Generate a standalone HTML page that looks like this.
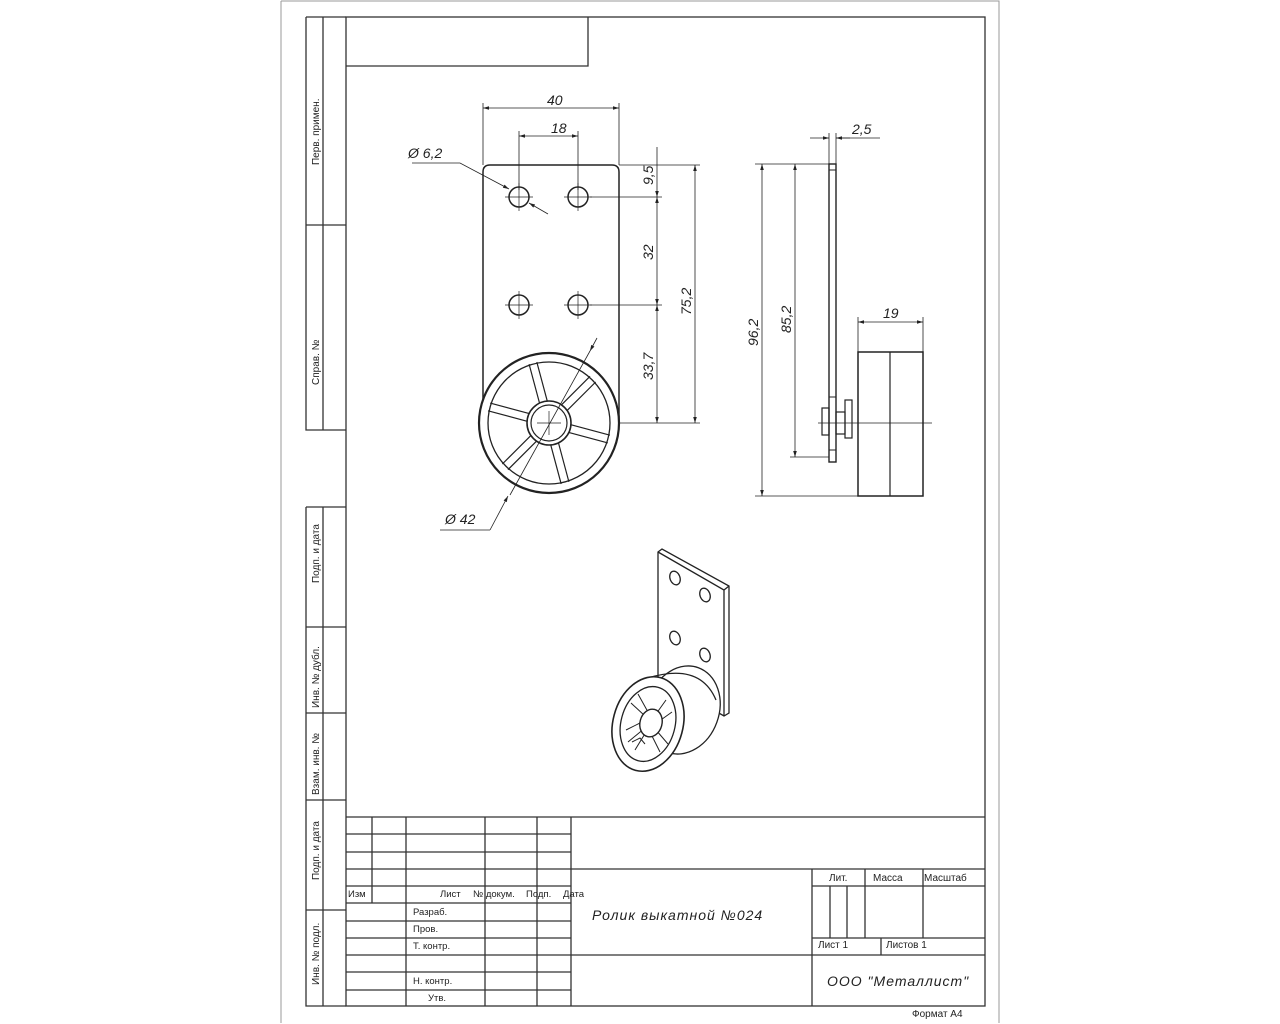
<!DOCTYPE html>
<html><head><meta charset="utf-8"><style>
html,body{margin:0;padding:0;background:#fff;}
svg{display:block;}
text{font-family:"Liberation Sans",sans-serif;fill:#222;}
.d{font-style:italic;font-size:14px;}
.s{font-size:9.5px;}
</style></head><body>
<svg width="1280" height="1024" viewBox="0 0 1280 1024" xmlns="http://www.w3.org/2000/svg">
<defs>
<marker id="a" viewBox="0 0 10 10" refX="10" refY="5" markerWidth="9" markerHeight="6" orient="auto-start-reverse" markerUnits="userSpaceOnUse"><path d="M0,2 L10,5 L0,8 z" fill="#222"/></marker>
</defs>
<g stroke="#999" stroke-width="1" fill="none">
<path d="M281,1 H999 V1023 M281,1 V1023"/>
</g>
<g stroke="#333" stroke-width="1.3" fill="none">
<rect x="346" y="17" width="639" height="989"/>
<path d="M346,66 H588 V17"/>
<path d="M306,17 V430 H346 M306,17 H346 M323,17 V430 M306,225 H346"/>
<path d="M306,507 V1006 H346 M306,507 H346 M323,507 V1006 M306,627 H346 M306,713 H346 M306,800 H346 M306,910 H346"/>
<path d="M346,817 H985"/>
<path d="M346,834 H571 M346,852 H571 M346,869 H985 M346,886 H571 M346,903 H571 M346,921 H571 M346,938 H571 M346,955 H985 M346,972 H571 M346,990 H571"/>
<path d="M372,817 V903 M406,817 V1006 M485,817 V1006 M537,817 V1006 M571,817 V1006"/>
<path d="M812,869 V1006 M812,886 H985 M812,938 H985 M830,886 V938 M847,886 V938 M865,869 V938 M923,869 V938 M881,938 V955"/>
</g>
<g class="s">
<text x="319" y="165" transform="rotate(-90 319 165)" font-size="10">Перв. примен.</text>
<text x="319" y="385" transform="rotate(-90 319 385)" font-size="10">Справ. №</text>
<text x="319" y="583" transform="rotate(-90 319 583)" font-size="10">Подп. и дата</text>
<text x="319" y="708" transform="rotate(-90 319 708)" font-size="10">Инв. № дубл.</text>
<text x="319" y="795" transform="rotate(-90 319 795)" font-size="10">Взам. инв. №</text>
<text x="319" y="880" transform="rotate(-90 319 880)" font-size="10">Подп. и дата</text>
<text x="319" y="985" transform="rotate(-90 319 985)" font-size="10">Инв. № подл.</text>
<text x="348" y="897">Изм</text>
<text x="440" y="897">Лист</text>
<text x="473" y="897">№ докум.</text>
<text x="526" y="897">Подп.</text>
<text x="563" y="897">Дата</text>
<text x="413" y="915">Разраб.</text>
<text x="413" y="932">Пров.</text>
<text x="413" y="949">Т. контр.</text>
<text x="413" y="984">Н. контр.</text>
<text x="428" y="1001">Утв.</text>
<text x="829" y="881" font-size="10">Лит.</text>
<text x="873" y="881" font-size="10">Масса</text>
<text x="924" y="881" font-size="10">Масштаб</text>
<text x="818" y="948" font-size="10">Лист 1</text>
<text x="886" y="948" font-size="10">Листов 1</text>
<text x="912" y="1017" font-size="10">Формат А4</text>
</g>
<text x="592" y="920" class="d" font-size="16" style="letter-spacing:1px">Ролик выкатной №024</text>
<text x="827" y="986" class="d" font-size="15" style="letter-spacing:1px">ООО "Металлист"</text>

<g stroke="#222" fill="none">
<path d="M483,420 V172 Q483,165 490,165 H612 Q619,165 619,172 V420" stroke-width="1.5"/>
<g stroke-width="1.5">
<circle cx="519" cy="197" r="10"/><circle cx="578" cy="197" r="10"/>
<circle cx="519" cy="305" r="10"/><circle cx="578" cy="305" r="10"/>
</g>
<g stroke-width="0.7">
<path d="M505,197 H533 M519,183 V211 M564,197 H592 M578,183 V211 M505,305 H533 M519,291 V319 M564,305 H592 M578,291 V319"/>
</g>
<circle cx="549" cy="423" r="70" fill="#fff" stroke-width="2.2"/>
<circle cx="549" cy="423" r="61" stroke-width="1.3"/>
<g stroke-width="1.2">
<path transform="rotate(-105 549 423)" d="M570,419 H611 M570,427 H611"/>
<path transform="rotate(-45 549 423)" d="M570,419 H611 M570,427 H611"/>
<path transform="rotate(15 549 423)" d="M570,419 H611 M570,427 H611"/>
<path transform="rotate(75 549 423)" d="M570,419 H611 M570,427 H611"/>
<path transform="rotate(135 549 423)" d="M570,419 H611 M570,427 H611"/>
<path transform="rotate(195 549 423)" d="M570,419 H611 M570,427 H611"/>
</g>
<circle cx="549" cy="423" r="22" fill="#fff" stroke-width="1.6"/>
<circle cx="549" cy="423" r="18" stroke-width="1.2"/>
<path d="M537,423 H561 M549,411 V435" stroke-width="0.7"/>
<g stroke-width="0.8">
<path d="M483,165 V103 M619,165 V103 M519,190 V131 M578,190 V131"/>
<path d="M483,108 H619" marker-start="url(#a)" marker-end="url(#a)"/>
<path d="M519,136 H578" marker-start="url(#a)" marker-end="url(#a)"/>
<path d="M619,165 H700 M590,197 H662 M590,305 H662 M620,423 H700"/>
<path d="M657,147 V197" marker-end="url(#a)"/>
<path d="M657,197 V305" marker-start="url(#a)" marker-end="url(#a)"/>
<path d="M657,305 V423" marker-start="url(#a)" marker-end="url(#a)"/>
<path d="M695,165 V423" marker-start="url(#a)" marker-end="url(#a)"/>
<path d="M412,163 H460 L509,189" marker-end="url(#a)"/>
<path d="M548,214 L529,203" marker-end="url(#a)"/>
<path d="M597,338 L590,351" marker-end="url(#a)"/>
<path d="M590,351 L510,495"/>
<path d="M490,530 L508,496" marker-end="url(#a)"/>
<path d="M440,530 H490"/>
</g>
</g>
<g class="d">
<text x="547" y="105">40</text>
<text x="551" y="133">18</text>
<text x="408" y="158">Ø 6,2</text>
<text x="653" y="185" transform="rotate(-90 653 185)">9,5</text>
<text x="653" y="260" transform="rotate(-90 653 260)">32</text>
<text x="653" y="380" transform="rotate(-90 653 380)">33,7</text>
<text x="691" y="315" transform="rotate(-90 691 315)">75,2</text>
<text x="445" y="524">Ø 42</text>
<text x="758" y="346" transform="rotate(-90 758 346)">96,2</text>
<text x="791" y="333" transform="rotate(-90 791 333)">85,2</text>
<text x="852" y="134">2,5</text>
<text x="883" y="318">19</text>
</g>

<g stroke="#222" fill="none">
<rect x="829" y="164" width="7" height="298" stroke-width="1.4"/>
<path d="M829,170 H836 M829,397 H836 M829,450 H836" stroke-width="1"/>
<rect x="858" y="352" width="65" height="144" fill="#fff" stroke-width="1.5"/>
<path d="M890,352 V496" stroke-width="1.2"/>
<rect x="822" y="408" width="7" height="27" stroke-width="1.2"/>
<rect x="836" y="412" width="9" height="22" stroke-width="1.2"/>
<rect x="845" y="400" width="7" height="38" stroke-width="1.2"/>
<path d="M818,423 H932" stroke-width="0.7"/>
<g stroke-width="0.8">
<path d="M829,164 V133 M836,164 V133"/>
<path d="M810,138 H829" marker-end="url(#a)"/>
<path d="M850,138 H836" marker-end="url(#a)"/>
<path d="M836,138 H880"/>
<path d="M755,164 H829 M790,457 H829 M755,496 H858"/>
<path d="M762,164 V496" marker-start="url(#a)" marker-end="url(#a)"/>
<path d="M795,164 V457" marker-start="url(#a)" marker-end="url(#a)"/>
<path d="M858,352 V317 M923,352 V317"/>
<path d="M858,322 H923" marker-start="url(#a)" marker-end="url(#a)"/>
</g>
</g>

<g stroke="#222" fill="#fff" stroke-width="1.3">
<path d="M658,552 L662,549 L729,586 L729,713 L724,716 L658,678 Z"/>
<path d="M658,552 L724,590 L724,716 M724,590 L729,586" fill="none"/>
<ellipse cx="675" cy="578" rx="5" ry="7" transform="rotate(-20 675 578)"/>
<ellipse cx="705" cy="595" rx="5" ry="7" transform="rotate(-20 705 595)"/>
<ellipse cx="675" cy="638" rx="5" ry="7" transform="rotate(-20 675 638)"/>
<ellipse cx="705" cy="655" rx="5" ry="7" transform="rotate(-20 705 655)"/>
<ellipse cx="683" cy="710" rx="36" ry="45" transform="rotate(20 683 710)"/>
<path d="M648,678 Q700,662 716,700" fill="none"/>
<ellipse cx="648" cy="724" rx="35" ry="48" transform="rotate(15 648 724)" stroke-width="1.6"/>
<ellipse cx="648" cy="724" rx="27" ry="38" transform="rotate(15 648 724)"/>
<g fill="none" stroke-width="1">
<path d="M631,703 L645,716 M638,694 L648,712 M666,700 L656,714 M672,712 L658,722 M668,744 L656,730 M660,752 L650,732 M628,742 L645,728 M626,730 L642,722 M635,750 L646,732"/>
<path d="M632,742 L640,738 L645,744"/>
</g>
<ellipse cx="651" cy="723" rx="11" ry="14" transform="rotate(15 651 723)" stroke-width="1.4"/>
</g>
</svg>
</body></html>
